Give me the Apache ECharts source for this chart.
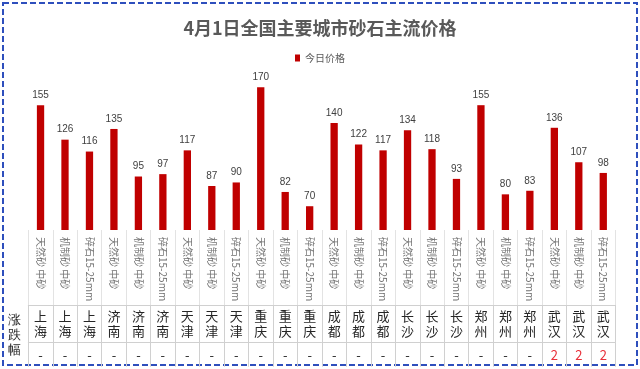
<!DOCTYPE html>
<html><head><meta charset="utf-8">
<script src="https://cdn.jsdelivr.net/npm/echarts@6/dist/echarts.min.js"></script>
<style>html,body{margin:0;padding:0;background:#fff}#c{width:640px;height:369px}</style>
</head><body><div id="c"></div>
<script>
const titleText = '4月1日全国主要城市砂石主流价格';
const seriesName = '今日价格';
const products = ['天然砂 中砂','机制砂 中砂','碎石15-25mm'];
const cities = ['上海','上海','上海','济南','济南','济南','天津','天津','天津','重庆','重庆','重庆','成都','成都','成都','长沙','长沙','长沙','郑州','郑州','郑州','武汉','武汉','武汉'];
const categories = ['天然砂 中砂','机制砂 中砂','碎石15-25mm','天然砂 中砂','机制砂 中砂','碎石15-25mm','天然砂 中砂','机制砂 中砂','碎石15-25mm','天然砂 中砂','机制砂 中砂','碎石15-25mm','天然砂 中砂','机制砂 中砂','碎石15-25mm','天然砂 中砂','机制砂 中砂','碎石15-25mm','天然砂 中砂','机制砂 中砂','碎石15-25mm','天然砂 中砂','机制砂 中砂','碎石15-25mm'];
const prices = [155,126,116,135,95,97,117,87,90,170,82,70,140,122,117,134,118,93,155,80,83,136,107,98];
const changes = ['-','-','-','-','-','-','-','-','-','-','-','-','-','-','-','-','-','-','-','-','-','2','2','2'];
const rowHeader = '涨\n跌\n幅';

const chart = echarts.init(document.getElementById('c'));
const font = '"Microsoft YaHei","Noto Sans CJK SC",sans-serif';
chart.setOption({
  animation: false,
  backgroundColor: '#fff',
  title: {
    text: titleText, left: 'center', top: 14,
    textStyle: {fontSize: 18, fontWeight: 'bold', color: '#595959', fontFamily: font}
  },
  legend: {
    data: [seriesName], top: 48, left: 'center',
    itemWidth: 5, itemHeight: 7, itemGap: 4,
    icon: 'rect',
    textStyle: {fontSize: 10, color: '#595959', fontFamily: font}
  },
  grid: {left: 28.3, right: 24.5, top: 51.7, bottom: 139, containLabel: false, outerBoundsMode: 'none'},
  xAxis: [
    {
      type: 'category', data: categories, position: 'bottom',
      axisLine: {show: false},
      axisTick: {show: true, length: 75, interval: 0, lineStyle: {color: '#e3e3e3'}},
      axisLabel: {interval: 0, rotate: -90, margin: 7, fontSize: 10, color: '#737373', fontFamily: font}
    },
    {
      type: 'category', data: cities, position: 'bottom', offset: 75,
      axisLine: {show: true, lineStyle: {color: '#d0d0d0'}},
      axisTick: {show: true, length: 37.7, interval: 0, lineStyle: {color: '#d0d0d0'}},
      axisLabel: {interval: 0, margin: 4, fontSize: 13, lineHeight: 15, color: '#262626', fontFamily: font,
        formatter: v => v.split('').join('\n')}
    },
    {
      type: 'category', data: changes.map((c, i) => c + '_' + i), position: 'bottom', offset: 112.7,
      axisLine: {show: true, lineStyle: {color: '#d0d0d0'}},
      axisTick: {show: true, length: 24, interval: 0, lineStyle: {color: '#d0d0d0'}},
      axisLabel: {interval: 0, margin: 6, fontSize: 13, lineHeight: 13, fontFamily: font,
        formatter: v => v.split('_')[0],
        color: v => v.split('_')[0] === '-' ? '#262626' : '#e8303a'}
    }
  ],
  yAxis: {type: 'value', min: 50, max: 200, show: false},
  series: [{
    name: seriesName, type: 'bar', data: prices, barWidth: 7.3,
    itemStyle: {color: '#c00000'},
    label: {show: true, position: 'top', distance: 5, fontSize: 10, color: '#404040', fontFamily: 'Arial, "Liberation Sans", sans-serif'}
  }],
  graphic: [
    {type: 'rect', shape: {x: 3, y: 3, width: 634, height: 362},
     style: {fill: 'none', stroke: '#2e4fbd', lineWidth: 2, lineDash: [6, 3]}, silent: true},
    {type: 'text', left: 8, top: 313, style: {text: rowHeader, fontSize: 13, lineHeight: 15, fill: '#262626', font: '13px ' + font}}
  ]
});
</script></body></html>
